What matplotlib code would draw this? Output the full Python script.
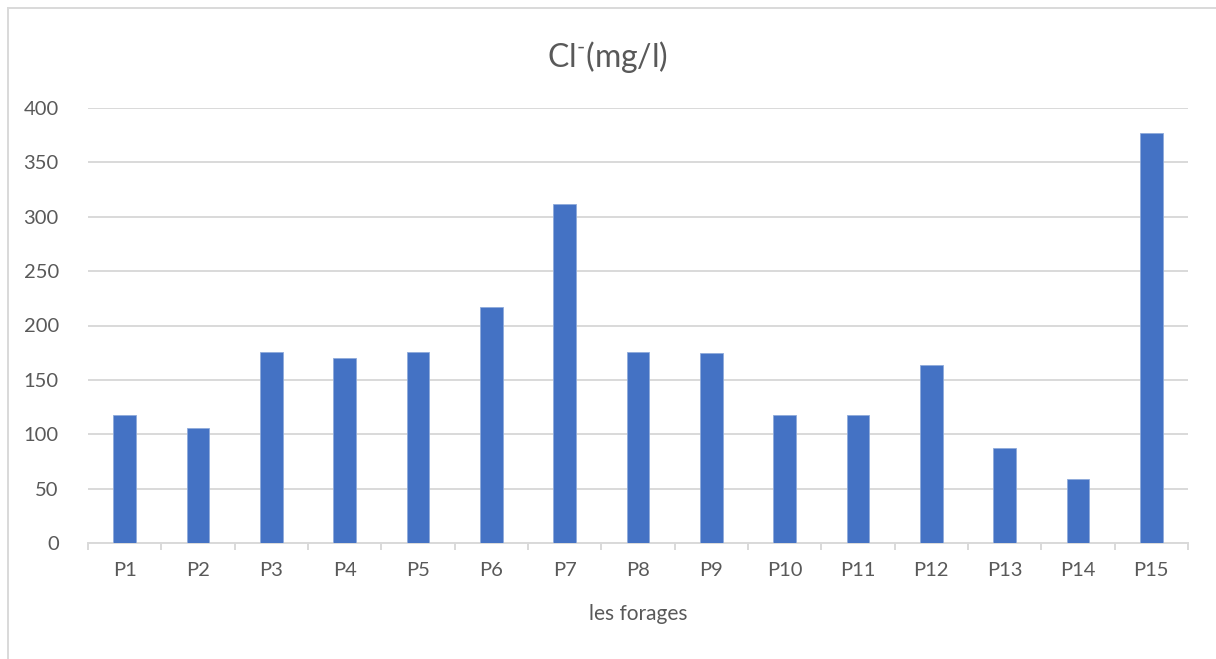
import numpy as np
import matplotlib.pyplot as plt
from matplotlib.lines import Line2D

# Chloride concentration per borehole
forages = ["P1", "P2", "P3", "P4", "P5", "P6", "P7", "P8",
           "P9", "P10", "P11", "P12", "P13", "P14", "P15"]
chlorures = [118, 106, 176, 170, 176, 217, 312, 176,
             175, 118, 118, 164, 87, 59, 377]
y_ticks = [0, 50, 100, 150, 200, 250, 300, 350, 400]

plt.rcParams['font.family'] = ['Lato', 'DejaVu Sans']
plt.rcParams['mathtext.fontset'] = 'custom'
plt.rcParams['mathtext.rm'] = 'Lato'

text_col = '#595959'
grid_col = '#d9d9d9'
bar_col = '#4472C4'

fig = plt.figure(figsize=(12.16, 6.59), dpi=100)
ax = fig.add_axes([88 / 1216, 1 - 543 / 659, 1100 / 1216, 435 / 659])

x = np.arange(len(forages))
ax.bar(x, chlorures, width=0.31, color=bar_col, edgecolor='#8eaadb',
       linewidth=0.6, zorder=3)

ax.set_xlim(-0.5, len(forages) - 0.5)
ax.set_ylim(0, 400)
ax.set_yticks(y_ticks)
ax.yaxis.grid(True, color=grid_col, linewidth=1.4, zorder=0)
ax.set_axisbelow(True)

for side in ['top', 'right', 'left']:
    ax.spines[side].set_visible(False)
ax.spines['bottom'].set_color(grid_col)
ax.spines['bottom'].set_linewidth(1.4)

ax.set_xticks(x)
ax.set_xticklabels(forages)
ax.set_xticks(np.arange(-0.5, len(forages)), minor=True)
ax.tick_params(axis='x', which='major', length=0, pad=14,
               labelsize=14.5, labelcolor=text_col)
ax.tick_params(axis='x', which='minor', length=5, width=1.4,
               color=grid_col, direction='out')
ax.tick_params(axis='y', length=0, pad=21, labelsize=14.5,
               labelcolor=text_col)

ax.set_xlabel("les forages", fontsize=15, color=text_col, labelpad=18)

# title: chloride ion with a small raised hyphen
fig.text(0.5, 1 - 57 / 659, r"Cl$^{\text{-}}$(mg/l)", ha='center',
         va='center', fontsize=23, color=text_col)

# chart area border (left and top edges)
fig.add_artist(Line2D([8 / 1216, 8 / 1216], [0, 1 - 8 / 659],
                      transform=fig.transFigure, color=grid_col, linewidth=1.4))
fig.add_artist(Line2D([8 / 1216, 1], [1 - 8 / 659, 1 - 8 / 659],
                      transform=fig.transFigure, color=grid_col, linewidth=1.4))

fig.savefig("out.png", dpi=100, facecolor='white')
